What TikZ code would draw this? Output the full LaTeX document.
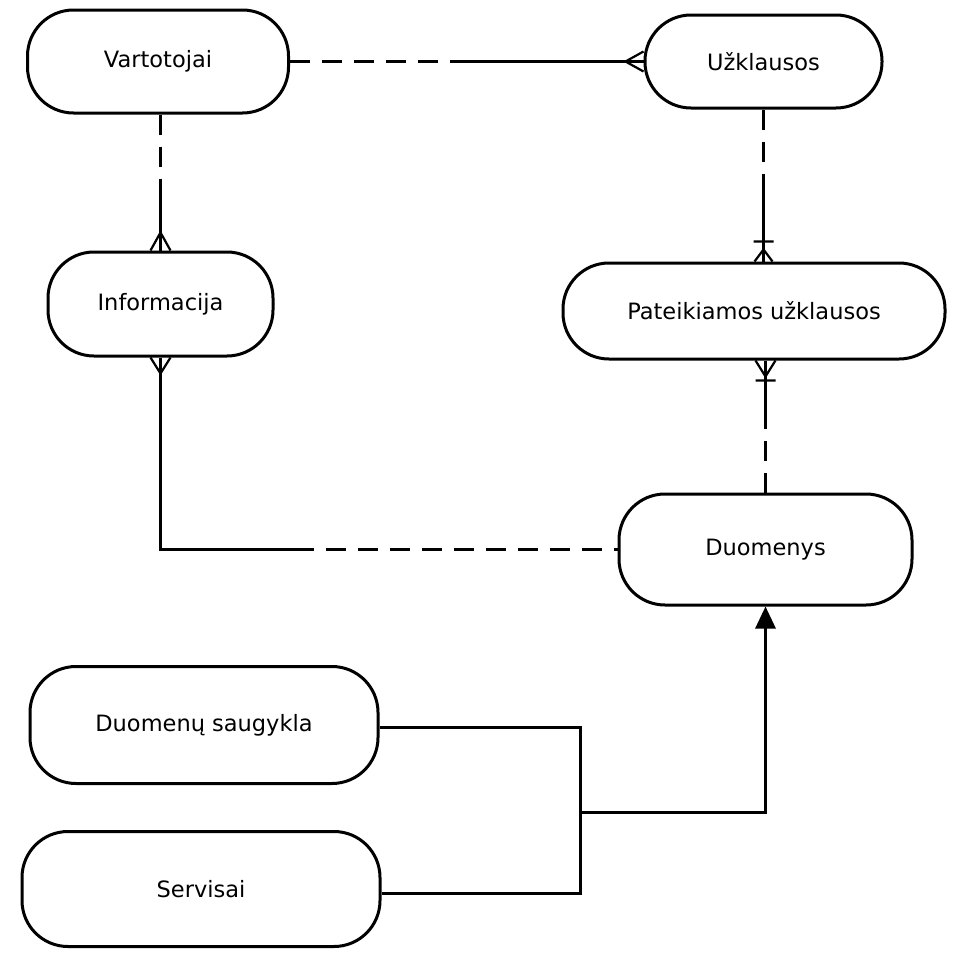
\documentclass[tikz,border=0pt]{standalone}
\usepackage{fontspec}
\setmainfont{DejaVu Sans}
\usetikzlibrary{calc,arrows.meta}
\begin{document}
\begin{tikzpicture}[x=1pt,y=-1pt,
 ent/.style={draw, line width=3pt, rounded corners=46pt, inner sep=0pt, align=center, font=\fontsize{22.5}{26}\selectfont},
 link/.style={line width=3pt},
 dsh/.style={link, dash pattern=on 20pt off 12pt},
 foot/.style={line width=2.2pt},
]
\useasboundingbox[fill=white] (0,0) rectangle (953,953);
% entities
\node[ent, minimum width=261pt, minimum height=103pt] (V) at (158,61.5) {Vartotojai};
\node[ent, minimum width=237pt, minimum height=93pt] (U) at (763.5,61.5) {Užklausos};
\node[ent, minimum width=225pt, minimum height=104pt] (I) at (160.5,304) {Informacija};
\node[ent, minimum width=382pt, minimum height=96pt] (P) at (754,311) {Pateikiamos užklausos};
\node[ent, minimum width=293pt, minimum height=111pt] (D) at (765.5,549.5) {Duomenys};
\node[ent, minimum width=348pt, minimum height=117pt] (S) at (204,725) {Duomenų saugykla};
\node[ent, minimum width=358pt, minimum height=115pt] (R) at (201,889) {Servisai};
% helper coordinates
\coordinate (vu) at ($(V.east)!0.5!(U.west)$);
\coordinate (vtop) at (I.north |- V.south);
\coordinate (vi) at ($(vtop)!0.5!(I.north)$);
\coordinate (ptop) at (U.south |- P.north);
\coordinate (up) at ($(U.south)!0.5!(ptop)$);
\coordinate (pbot) at (D.north |- P.south);
\coordinate (dp) at ($(D.north)!0.5!(pbot)$);
\coordinate (corner) at (I.south |- D.west);
\coordinate (id) at ($(corner)+(133,0)$);
\coordinate (j) at (580,812);
% Vartotojai - Uzklausos
\draw[dsh] (V.east) -- (vu);
\draw[link] (vu) -- (U.west);
\draw[foot] ($(U.west)+(-18,0)$) -- ($(U.west)+(0,-10)$)
            ($(U.west)+(-18,0)$) -- ($(U.west)+(0,10)$);
% Vartotojai - Informacija
\draw[dsh] (vtop) -- (vi);
\draw[link] (vi) -- (I.north);
\draw[foot] ($(I.north)+(0,-18)$) -- ($(I.north)+(-10,0)$)
            ($(I.north)+(0,-18)$) -- ($(I.north)+(10,0)$);
% Uzklausos - Pateikiamos
\draw[dsh] (U.south) -- (up);
\draw[link] (up) -- (ptop);
\draw[foot] ($(ptop)+(0,-12)$) -- ($(ptop)+(-9,0)$)
            ($(ptop)+(0,-12)$) -- ($(ptop)+(9,0)$)
            ($(ptop)+(-10,-20)$) -- ($(ptop)+(10,-20)$);
% Duomenys - Pateikiamos
\draw[dsh] (D.north) -- (dp);
\draw[link] (dp) -- (pbot);
\draw[foot] ($(pbot)+(0,16)$) -- ($(pbot)+(-10,0)$)
            ($(pbot)+(0,16)$) -- ($(pbot)+(10,0)$)
            ($(pbot)+(-10,20)$) -- ($(pbot)+(10,20)$);
% Informacija - Duomenys
\draw[link, line join=miter] (I.south) -- (corner) -- (id);
\draw[dsh] (id) -- (D.west);
\draw[foot] ($(I.south)+(0,16)$) -- ($(I.south)+(-10,0)$)
            ($(I.south)+(0,16)$) -- ($(I.south)+(10,0)$);
% Saugykla, Servisai -> Duomenys
\draw[link] (S.east |- 0,727) -| (j);
\draw[link] (R.east |- 0,893) -| (j);
\draw[link, -{Triangle[length=22pt,width=20pt]}] (j) -| (D.south);
\end{tikzpicture}
\end{document}
